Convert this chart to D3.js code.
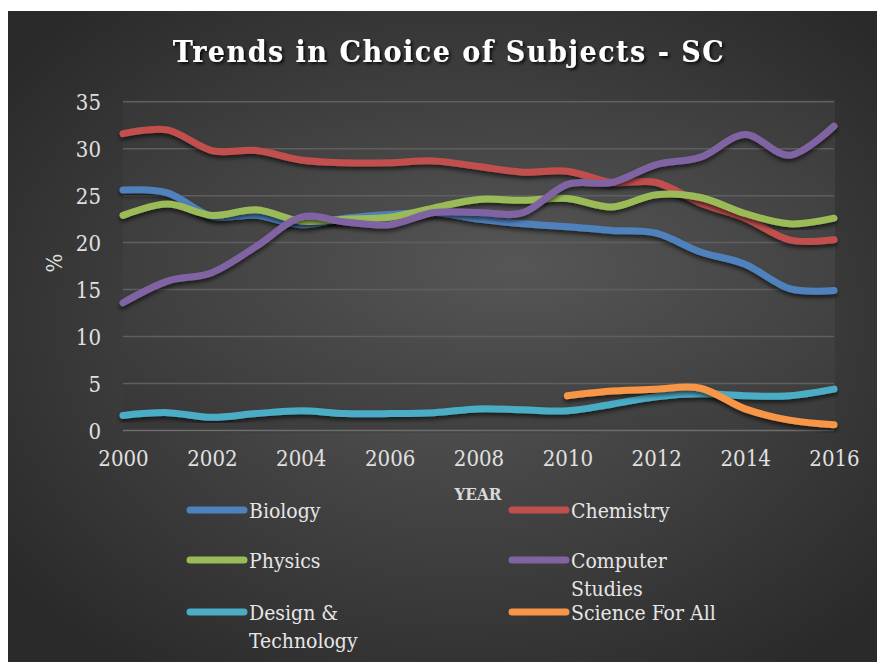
<!DOCTYPE html>
<html>
<head>
<meta charset="utf-8">
<script src="https://cdn.jsdelivr.net/npm/d3@7"></script>
<style>
  body { margin: 0; background: #fff; }
  svg { display: block; }
  text { font-family: "DejaVu Serif Condensed", "DejaVu Serif", "Liberation Serif", serif; }
</style>
</head>
<body>
<script>
// data
var years = [2000, 2001, 2002, 2003, 2004, 2005, 2006, 2007, 2008, 2009, 2010, 2011, 2012, 2013, 2014, 2015, 2016];
var biology   = [25.6, 25.3, 22.8, 22.9, 21.9, 22.6, 23.0, 23.2, 22.5, 22.0, 21.7, 21.3, 21.0, 19.0, 17.7, 15.1, 14.9];
var chemistry = [31.6, 32.0, 29.8, 29.8, 28.8, 28.5, 28.5, 28.7, 28.1, 27.5, 27.6, 26.4, 26.4, 24.2, 22.6, 20.3, 20.3];
var physics   = [22.9, 24.1, 22.9, 23.5, 22.3, 22.5, 22.7, 23.7, 24.6, 24.5, 24.7, 23.8, 25.1, 24.8, 23.1, 22.0, 22.6];
var computer  = [13.6, 15.9, 16.8, 19.6, 22.7, 22.2, 21.9, 23.2, 23.2, 23.2, 26.2, 26.4, 28.3, 29.1, 31.5, 29.3, 32.4];
var design    = [1.6, 1.9, 1.4, 1.8, 2.1, 1.8, 1.8, 1.9, 2.3, 2.2, 2.1, 2.8, 3.6, 3.9, 3.7, 3.7, 4.4];
var sfa       = [null, null, null, null, null, null, null, null, null, null, 3.7, 4.2, 4.4, 4.5, 2.3, 1.1, 0.6];

var seriesNames  = ["Biology", "Chemistry", "Physics", "Computer Studies", "Design & Technology", "Science For All"];
var seriesValues = [biology, chemistry, physics, computer, design, sfa];
var seriesColors = ["#4f81bd", "#c0504d", "#9bbb59", "#8064a2", "#4bacc6", "#f79646"];

var yTicks = [0, 5, 10, 15, 20, 25, 30, 35];
var xTicks = [2000, 2002, 2004, 2006, 2008, 2010, 2012, 2014, 2016];

var W = 877, H = 662;

var svg = d3.select("body").append("svg")
    .attr("width", W)
    .attr("height", H);

var defs = svg.append("defs");

var bg = defs.append("radialGradient").attr("id", "bg")
    .attr("cx", "52%").attr("cy", "48%").attr("r", "65%");
bg.append("stop").attr("offset", "0%").attr("stop-color", "#575757");
bg.append("stop").attr("offset", "100%").attr("stop-color", "#2a2a2a");

var pg = defs.append("radialGradient").attr("id", "pg")
    .attr("cx", "55%").attr("cy", "50%").attr("r", "70%");
pg.append("stop").attr("offset", "0%").attr("stop-color", "#565656");
pg.append("stop").attr("offset", "100%").attr("stop-color", "#383838");

var sh = defs.append("filter").attr("id", "shadow")
    .attr("x", "-5%").attr("y", "-20%").attr("width", "110%").attr("height", "140%");
sh.append("feDropShadow").attr("dx", 0).attr("dy", 3).attr("stdDeviation", 2)
    .attr("flood-color", "#000").attr("flood-opacity", 0.6);

var tsh = defs.append("filter").attr("id", "tshadow");
tsh.append("feDropShadow").attr("dx", 2).attr("dy", 2).attr("stdDeviation", 1.5)
    .attr("flood-color", "#000").attr("flood-opacity", 0.8);

//chart background
svg.append("rect")
    .attr("x", 8).attr("y", 11)
    .attr("width", W - 8).attr("height", H - 11)
    .attr("fill", "url(#bg)");

//scales
var xScale = d3.scaleLinear().domain([2000, 2016]).range([123, 834]);
var yScale = d3.scaleLinear().domain([0, 35]).range([430.5, 101.7]);

//plot area
svg.append("rect")
    .attr("x", xScale(2000)).attr("y", yScale(35) - 2)
    .attr("width", xScale(2016) - xScale(2000) + 1)
    .attr("height", yScale(0) - yScale(35) + 4)
    .attr("fill", "url(#pg)");

//gridlines
svg.append("g")
    .selectAll("line")
    .data(yTicks)
    .enter()
    .append("line")
    .attr("x1", xScale(2000)).attr("x2", xScale(2016))
    .attr("y1", function(d) { return yScale(d); })
    .attr("y2", function(d) { return yScale(d); })
    .attr("stroke", function(d) { return d === 0 ? "#6e6e6e" : "#5f5f5f"; })
    .attr("stroke-width", 1.5);

//axes
var yAxis = d3.axisLeft(yScale).tickValues(yTicks).tickSize(0).tickPadding(0);
var xAxis = d3.axisBottom(xScale).tickValues(xTicks).tickSize(0).tickFormat(d3.format("d"));

var gy = svg.append("g")
    .attr("transform", "translate(101,0)")
    .call(yAxis);
gy.select(".domain").remove();
gy.selectAll("text")
    .attr("fill", "#e0e0e0")
    .style("font-size", "22px")
    .attr("dy", "0.35em");

var gx = svg.append("g")
    .attr("transform", "translate(0," + 447 + ")")
    .call(xAxis);
gx.select(".domain").remove();
gx.selectAll("text")
    .attr("fill", "#e0e0e0")
    .style("font-size", "22px")
    .attr("dy", "0.71em");

//lines
var line = d3.line()
    .defined(function(d) { return d.v !== null; })
    .x(function(d) { return xScale(d.year); })
    .y(function(d) { return yScale(d.v); })
    .curve(d3.curveCardinal.tension(0));

var series = seriesNames.map(function(name, i) {
    return {
        name: name,
        color: seriesColors[i],
        points: years.map(function(y, j) { return {year: y, v: seriesValues[i][j]}; })
    };
});

svg.append("g")
    .selectAll("path")
    .data(series)
    .enter()
    .append("path")
    .attr("d", function(d) { return line(d.points); })
    .attr("fill", "none")
    .attr("stroke", function(d) { return d.color; })
    .attr("stroke-width", 7)
    .attr("stroke-linecap", "round")
    .attr("stroke-linejoin", "round")
    .attr("filter", "url(#shadow)");

//titles
svg.append("text")
    .attr("x", 449).attr("y", 62)
    .attr("text-anchor", "middle")
    .attr("fill", "#ffffff")
    .style("font-size", "30px")
    .style("font-weight", "bold")
    .style("letter-spacing", "1.5px")
    .attr("filter", "url(#tshadow)")
    .text("Trends in Choice of Subjects - SC");

svg.append("text")
    .attr("x", 478).attr("y", 500)
    .attr("text-anchor", "middle")
    .attr("fill", "#d9d9d9")
    .style("font-size", "17px")
    .style("font-weight", "bold")
    .text("YEAR");

svg.append("text")
    .attr("transform", "translate(62,263) rotate(-90)")
    .attr("text-anchor", "middle")
    .attr("fill", "#e0e0e0")
    .style("font-size", "22px")
    .text("%");

//legend
var colX = [190, 512], rowY = [510, 560, 612];
var legend = svg.append("g")
    .selectAll("g")
    .data(series)
    .enter()
    .append("g")
    .attr("transform", function(d, i) {
        return "translate(" + colX[i % 2] + "," + rowY[Math.floor(i / 2)] + ")";
    });

legend.append("line")
    .attr("x1", 0).attr("x2", 54)
    .attr("y1", 0).attr("y2", 0)
    .attr("stroke", function(d) { return d.color; })
    .attr("stroke-width", 7)
    .attr("stroke-linecap", "round");

legend.each(function(d) {
    var g = d3.select(this);
    var t = g.append("text")
        .attr("x", 59).attr("y", 8)
        .attr("fill", "#e6e6e6")
        .style("font-size", "21px");
    // wrap long names like excel does
    var words = d.name.split(" "), cur = [];
    var ts = t.append("tspan").attr("x", 59).attr("dy", 0);
    words.forEach(function(w) {
        cur.push(w);
        ts.text(cur.join(" "));
        if (ts.node().getComputedTextLength() > 160 && cur.length > 1) {
            cur.pop();
            ts.text(cur.join(" "));
            cur = [w];
            ts = t.append("tspan").attr("x", 59).attr("dy", 28).text(w);
        }
    });
});
</script>
</body>
</html>
